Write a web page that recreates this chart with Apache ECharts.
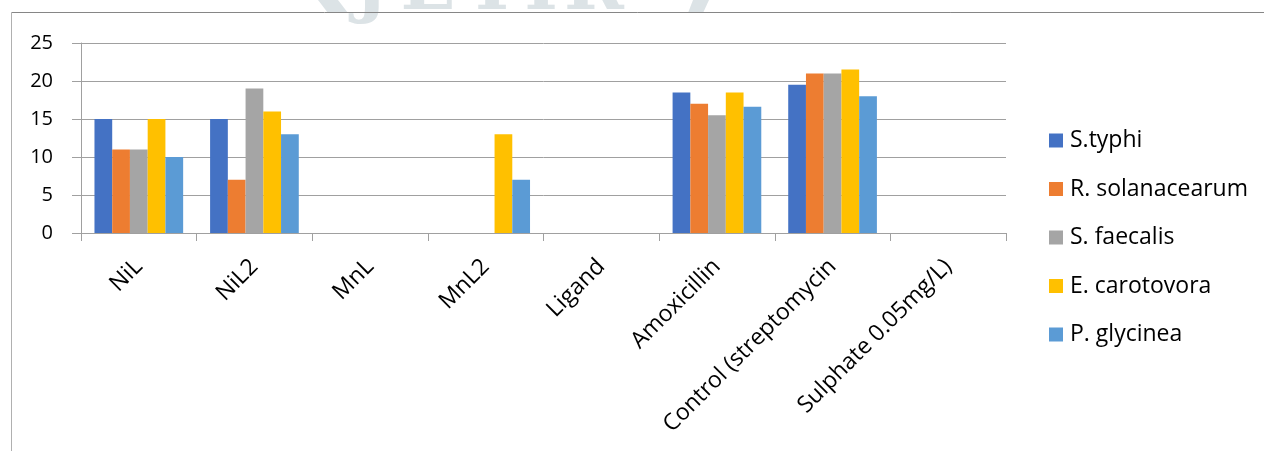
<!DOCTYPE html>
<html><head><meta charset="utf-8">
<script src="https://cdn.jsdelivr.net/npm/echarts@6/dist/echarts.min.js"></script>
<style>html,body{margin:0;padding:0;background:#fff}#c{width:1264px;height:451px}</style>
</head><body><div id="c"></div>
<script>
const categories = ['NiL', 'NiL2', 'MnL', 'MnL2', 'Ligand', 'Amoxicillin', 'Control (streptomycin', 'Sulphate 0.05mg/L)'];
const seriesNames = ['S.typhi', 'R. solanacearum', 'S. faecalis', 'E. carotovora', 'P. glycinea'];
const sTyphi = [15, 15, 0, 0, 0, 18.5, 19.5, 0];
const rSolanacearum = [11, 7, 0, 0, 0, 17, 21, 0];
const sFaecalis = [11, 19, 0, 0, 0, 15.5, 21, 0];
const eCarotovora = [15, 16, 0, 13, 0, 18.5, 21.5, 0];
const pGlycinea = [10, 13, 0, 7, 0, 16.6, 18, 0];
const yTicks = [0, 5, 10, 15, 20, 25];

const colors = ['#4472C4', '#ED7D31', '#A5A5A5', '#FFC000', '#5B9BD5'];
const values = [sTyphi, rSolanacearum, sFaecalis, eCarotovora, pGlycinea];
const font = '"Open Sans", sans-serif';
const gridColor = '#a0a0a0';
const wm = '#dce3e6';

const chart = echarts.init(document.getElementById('c'));
chart.setOption({
  animation: false,
  backgroundColor: '#fff',
  color: colors,
  grid: { left: 81, top: 43, width: 925, height: 190 },
  legend: {
    orient: 'vertical', left: 1049, top: 129, padding: 0,
    itemWidth: 14, itemHeight: 14, itemGap: 25.5,
    icon: 'rect',
    textStyle: { fontFamily: font, fontSize: 23, color: '#000', lineHeight: 23, padding: [0, 0, 0, 2] },
    data: seriesNames
  },
  xAxis: {
    type: 'category', data: categories,
    axisLine: { lineStyle: { color: gridColor, width: 1 } },
    axisTick: { show: true, length: 8, lineStyle: { color: gridColor } },
    axisLabel: { rotate: 45, interval: 0, margin: 30, fontFamily: font, fontSize: 23, color: '#000' }
  },
  yAxis: {
    type: 'value', min: yTicks[0], max: yTicks[yTicks.length - 1], interval: 5,
    axisLine: { show: true, lineStyle: { color: gridColor, width: 1 } },
    axisTick: { show: true, length: 9, lineStyle: { color: gridColor } },
    axisLabel: { margin: 28, fontFamily: font, fontSize: 20, color: '#000' },
    splitLine: { lineStyle: { color: gridColor, width: 1 } }
  },
  series: seriesNames.map((n, i) => ({
    name: n, type: 'bar', data: values[i],
    barGap: '0%', barCategoryGap: '23.3%',
    itemStyle: { color: colors[i] }
  })),
  graphic: [
    { type: 'polygon', silent: true, z: -1, shape: { points: [[318, 0], [338, 0], [348, 13], [328, 13]] }, style: { fill: wm } },
    { type: 'polygon', silent: true, z: -1, shape: { points: [[693, 0], [709, 0], [703, 13], [688, 13]] }, style: { fill: wm } },
    { type: 'text', silent: true, z: -1, x: 371, y: -10, style: { text: 'J', fill: wm, font: 'bold 72px "DejaVu Serif"', align: 'center', verticalAlign: 'middle' } },
    { type: 'text', silent: true, z: -1, x: 428, y: -10, style: { text: 'E', fill: wm, font: 'bold 72px "DejaVu Serif"', align: 'center', verticalAlign: 'middle' } },
    { type: 'text', silent: true, z: -1, x: 492, y: -10, style: { text: 'T', fill: wm, font: 'bold 72px "DejaVu Serif"', align: 'center', verticalAlign: 'middle' } },
    { type: 'text', silent: true, z: -1, x: 541, y: -10, style: { text: 'I', fill: wm, font: 'bold 72px "DejaVu Serif"', align: 'center', verticalAlign: 'middle' } },
    { type: 'text', silent: true, z: -1, x: 594, y: -10, style: { text: 'R', fill: wm, font: 'bold 72px "DejaVu Serif"', align: 'center', verticalAlign: 'middle' } },
    { type: 'line', silent: true, shape: { x1: 11.5, y1: 12.5, x2: 1264, y2: 12.5 }, style: { stroke: '#868686', lineWidth: 1 } },
    { type: 'line', silent: true, shape: { x1: 11.5, y1: 12.5, x2: 11.5, y2: 451 }, style: { stroke: '#b0b0b0', lineWidth: 1 } }
  ]
});
</script></body></html>
